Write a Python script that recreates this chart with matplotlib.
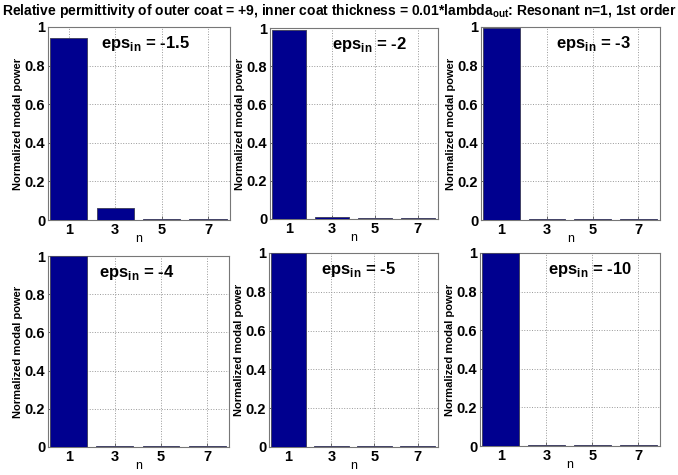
import matplotlib
matplotlib.use("Agg")
import matplotlib.pyplot as plt

plt.rcParams['font.family'] = ['Liberation Sans', 'DejaVu Sans']
plt.rcParams['mathtext.fontset'] = 'custom'
plt.rcParams['mathtext.bf'] = 'Liberation Sans:bold'
plt.rcParams['mathtext.rm'] = 'Liberation Sans'

title = "Relative permittivity of outer coat = +9, inner coat thickness = 0.01*lambda$_{\\mathbf{out}}$: Resonant n=1, 1st order"
n_values = [1, 3, 5, 7]
eps_in = ['-1.5', '-2', '-3', '-4', '-5', '-10']
power_eps_1_5 = [0.945, 0.060, 0.003, 0.003]
power_eps_2 = [0.990, 0.012, 0.003, 0.003]
power_eps_3 = [0.997, 0.006, 0.003, 0.003]
power_eps_4 = [0.998, 0.004, 0.003, 0.003]
power_eps_5 = [1.000, 0.005, 0.003, 0.003]
power_eps_10 = [1.000, 0.003, 0.003, 0.003]
powers = [power_eps_1_5, power_eps_2, power_eps_3, power_eps_4, power_eps_5, power_eps_10]
y_ticks = [0, 0.2, 0.4, 0.6, 0.8, 1]
y_tick_labels = ['0', '0.2', '0.4', '0.6', '0.8', '1']

W, H = 678, 475
fig = plt.figure(figsize=(W / 100, H / 100), dpi=100)

# axes boxes in pixels: left, top, right, bottom
boxes = [(48, 27, 230, 220), (270, 28, 438, 219), (481, 27, 660, 220),
         (48, 256, 229, 447), (269, 253, 438, 447), (480, 253, 660, 446)]
label_x = [0.29, 0.37, 0.42, 0.28, 0.31, 0.38]

bar_color = '#00008F'
for i, (l, t, r, b) in enumerate(boxes):
    ax = fig.add_axes([l / W, 1 - b / H, (r - l) / W, (b - t) / H])
    ax.bar(n_values, powers[i], width=1.6, color=bar_color,
           edgecolor='#444466', linewidth=0.7, zorder=3)
    ax.set_xlim(0.1, 7.95)
    ax.set_ylim(0, 1)
    ax.set_xticks(n_values)
    ax.set_xticklabels([str(v) for v in n_values], fontsize=10.5, fontweight='bold')
    ax.set_yticks(y_ticks)
    ax.set_yticklabels(y_tick_labels, fontsize=10.5, fontweight='bold')
    ax.tick_params(direction='in', length=3, width=0.6, color='#555555', pad=2)
    ax.grid(True, linestyle=':', color='#999999', linewidth=0.7, zorder=0)
    for s in ax.spines.values():
        s.set_color('#777777')
        s.set_linewidth(0.8)
    ax.set_ylabel('Normalized modal power', fontsize=8, fontweight='bold', labelpad=1)
    ax.annotate('n', xy=(0.5, 0), xycoords='axes fraction', xytext=(0, -14),
                textcoords='offset points', ha='center', va='center', fontsize=9)
    ax.text(label_x[i], 0.915, r'eps$_{\mathbf{in}}$ = ' + eps_in[i], transform=ax.transAxes,
            ha='left', va='center', fontsize=12, fontweight='bold')

fig.text(0.5, 1 - 11 / H, title, ha='center', va='center', fontsize=10, fontweight='bold')

fig.savefig('out.png', dpi=100)
